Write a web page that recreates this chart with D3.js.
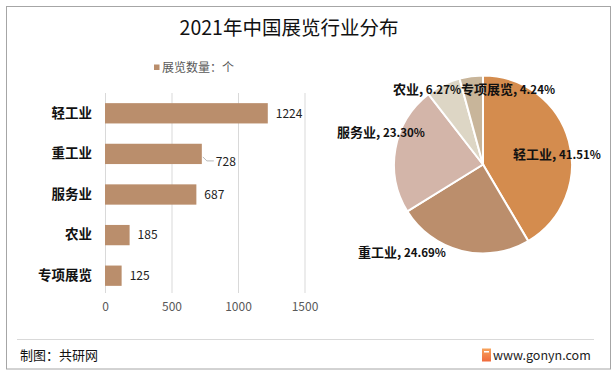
<!DOCTYPE html>
<html>
<head>
<meta charset="utf-8">
<script src="https://cdn.jsdelivr.net/npm/d3@7"></script>
<style>
  html, body { margin: 0; padding: 0; background: #fff; }
  svg { display: block; }
  text { font-family: "Noto Sans CJK SC", "Noto Sans", sans-serif; }
</style>
</head>
<body>
<svg id="chart" width="616" height="377"></svg>
<script>
// ---- data ----
const title = "2021年中国展览行业分布";
const legendLabel = "展览数量：个";
const categories = ["轻工业", "重工业", "服务业", "农业", "专项展览"];
const counts = [1224, 728, 687, 185, 125];
const axisTicks = [0, 500, 1000, 1500];
const pieColors = ["#D48C4E", "#BB8E6C", "#D3B5A9", "#DDD6C5", "#C8B59A"];
const barColor = "#BA8E6C";
const sourceText = "制图：共研网";
const siteText = "www.gonyn.com";

const svg = d3.select("#chart");

// frame
svg.append("rect").attr("x", 6.5).attr("y", 6.5).attr("width", 604).attr("height", 362.5)
  .attr("fill", "#fff").attr("stroke", "#A6A6A6").attr("stroke-width", 1);

// title
svg.append("text").attr("x", 289).attr("y", 35).attr("text-anchor", "middle")
  .attr("font-size", 19.5).attr("fill", "#111").text(title);

// legend
svg.append("rect").attr("x", 154).attr("y", 64.5).attr("width", 5.5).attr("height", 5.5).attr("fill", barColor);
svg.append("text").attr("x", 162).attr("y", 72).attr("font-size", 12).attr("fill", "#595959").text(legendLabel);

// ---- bar chart ----
const x = d3.scaleLinear().domain([0, 1500]).range([105, 304.5]);
const y = d3.scaleBand().domain(categories).range([93, 296]).paddingInner(0.5).paddingOuter(0.25);

const grid = svg.append("g");
grid.selectAll("line").data(axisTicks).join("line")
  .attr("x1", d => x(d) + 0.5).attr("x2", d => x(d) + 0.5)
  .attr("y1", 93).attr("y2", 293)
  .attr("stroke", "#D9D9D9").attr("stroke-width", 1);

const xAxis = svg.append("g").attr("transform", "translate(0,300)")
  .call(d3.axisBottom(x).tickValues(axisTicks).tickSize(0).tickPadding(0).tickFormat(d3.format("d")));
xAxis.select(".domain").remove();
xAxis.selectAll("text").attr("font-size", 12).attr("fill", "#595959")
  .attr("font-family", "\"Noto Sans CJK SC\", sans-serif").attr("dy", "0.9em");

const yAxis = svg.append("g").attr("transform", "translate(92,0)")
  .call(d3.axisLeft(y).tickSize(0).tickPadding(0));
yAxis.select(".domain").remove();
yAxis.selectAll("text").attr("font-size", 13.5).attr("font-weight", "bold").attr("fill", "#111")
  .attr("font-family", "\"Noto Sans CJK SC\", sans-serif");

svg.append("g").selectAll("rect").data(counts).join("rect")
  .attr("x", x(0)).attr("y", (d, i) => y(categories[i]))
  .attr("width", d => x(d) - x(0)).attr("height", y.bandwidth())
  .attr("fill", barColor);

const labels = svg.append("g");
counts.forEach((d, i) => {
  const cy = y(categories[i]) + y.bandwidth() / 2;
  const ex = x(d);
  const isShifted = i === 1;
  if (isShifted) {
    labels.append("path")
      .attr("d", `M${ex + 1},${cy + 3} L${ex + 5},${cy + 7} L${ex + 12},${cy + 7}`)
      .attr("fill", "none").attr("stroke", "#A6A6A6").attr("stroke-width", 0.8);
  }
  labels.append("text")
    .attr("x", ex + (isShifted ? 14 : 8))
    .attr("y", cy + (isShifted ? 8 : 0))
    .attr("dy", "0.36em").attr("font-size", 12).attr("fill", "#222").text(d);
});

// ---- pie chart ----
const total = d3.sum(counts);
const cx = 483, cyP = 164.5, R = 89;
const pie = d3.pie().sort(null).value(d => d)(counts);
const arc = d3.arc().innerRadius(0).outerRadius(R);
const pg = svg.append("g").attr("transform", `translate(${cx},${cyP})`);
pg.selectAll("path").data(pie).join("path")
  .attr("d", arc).attr("fill", (d, i) => pieColors[i])
  .attr("stroke", "#fff").attr("stroke-width", 2);

// label offsets from pie centre (layout only)
const labelOffsets = [[74, -11], [-81, 87], [-102, -33], [-56, -76], [25, -76]];
pie.forEach((d, i) => {
  const pct = (d.value / total * 100).toFixed(2) + "%";
  const t = pg.append("text")
    .attr("x", labelOffsets[i][0]).attr("y", labelOffsets[i][1])
    .attr("dy", "0.36em").attr("text-anchor", "middle").attr("fill", "#111");
  t.append("tspan").attr("font-size", 13).attr("font-weight", "bold").text(categories[i] + ",");
  t.append("tspan").attr("font-size", 11.5).attr("font-weight", "bold").text(" " + pct);
});

// ---- footer ----
svg.append("line").attr("x1", 17).attr("x2", 594).attr("y1", 339.5).attr("y2", 339.5)
  .attr("stroke", "#D9D9D9").attr("stroke-width", 1);
svg.append("text").attr("x", 20).attr("y", 355).attr("dy", "0.36em")
  .attr("font-size", 13).attr("fill", "#111").text(sourceText);

const defs = svg.append("defs");
const lg = defs.append("linearGradient").attr("id", "logoGrad").attr("x1", 0).attr("y1", 0).attr("x2", 0).attr("y2", 1);
lg.append("stop").attr("offset", "0%").attr("stop-color", "#F7A35C");
lg.append("stop").attr("offset", "100%").attr("stop-color", "#F06A3C");
svg.append("rect").attr("x", 482).attr("y", 348.5).attr("width", 9).attr("height", 13).attr("fill", "url(#logoGrad)");
svg.append("rect").attr("x", 484).attr("y", 351).attr("width", 5).attr("height", 1.5).attr("fill", "#fff");
svg.append("text").attr("x", 493).attr("y", 355).attr("dy", "0.36em")
  .attr("font-size", 12.5).attr("fill", "#222").attr("font-family", "\"Liberation Sans\", Arial, sans-serif").text(siteText);
</script>
</body>
</html>
